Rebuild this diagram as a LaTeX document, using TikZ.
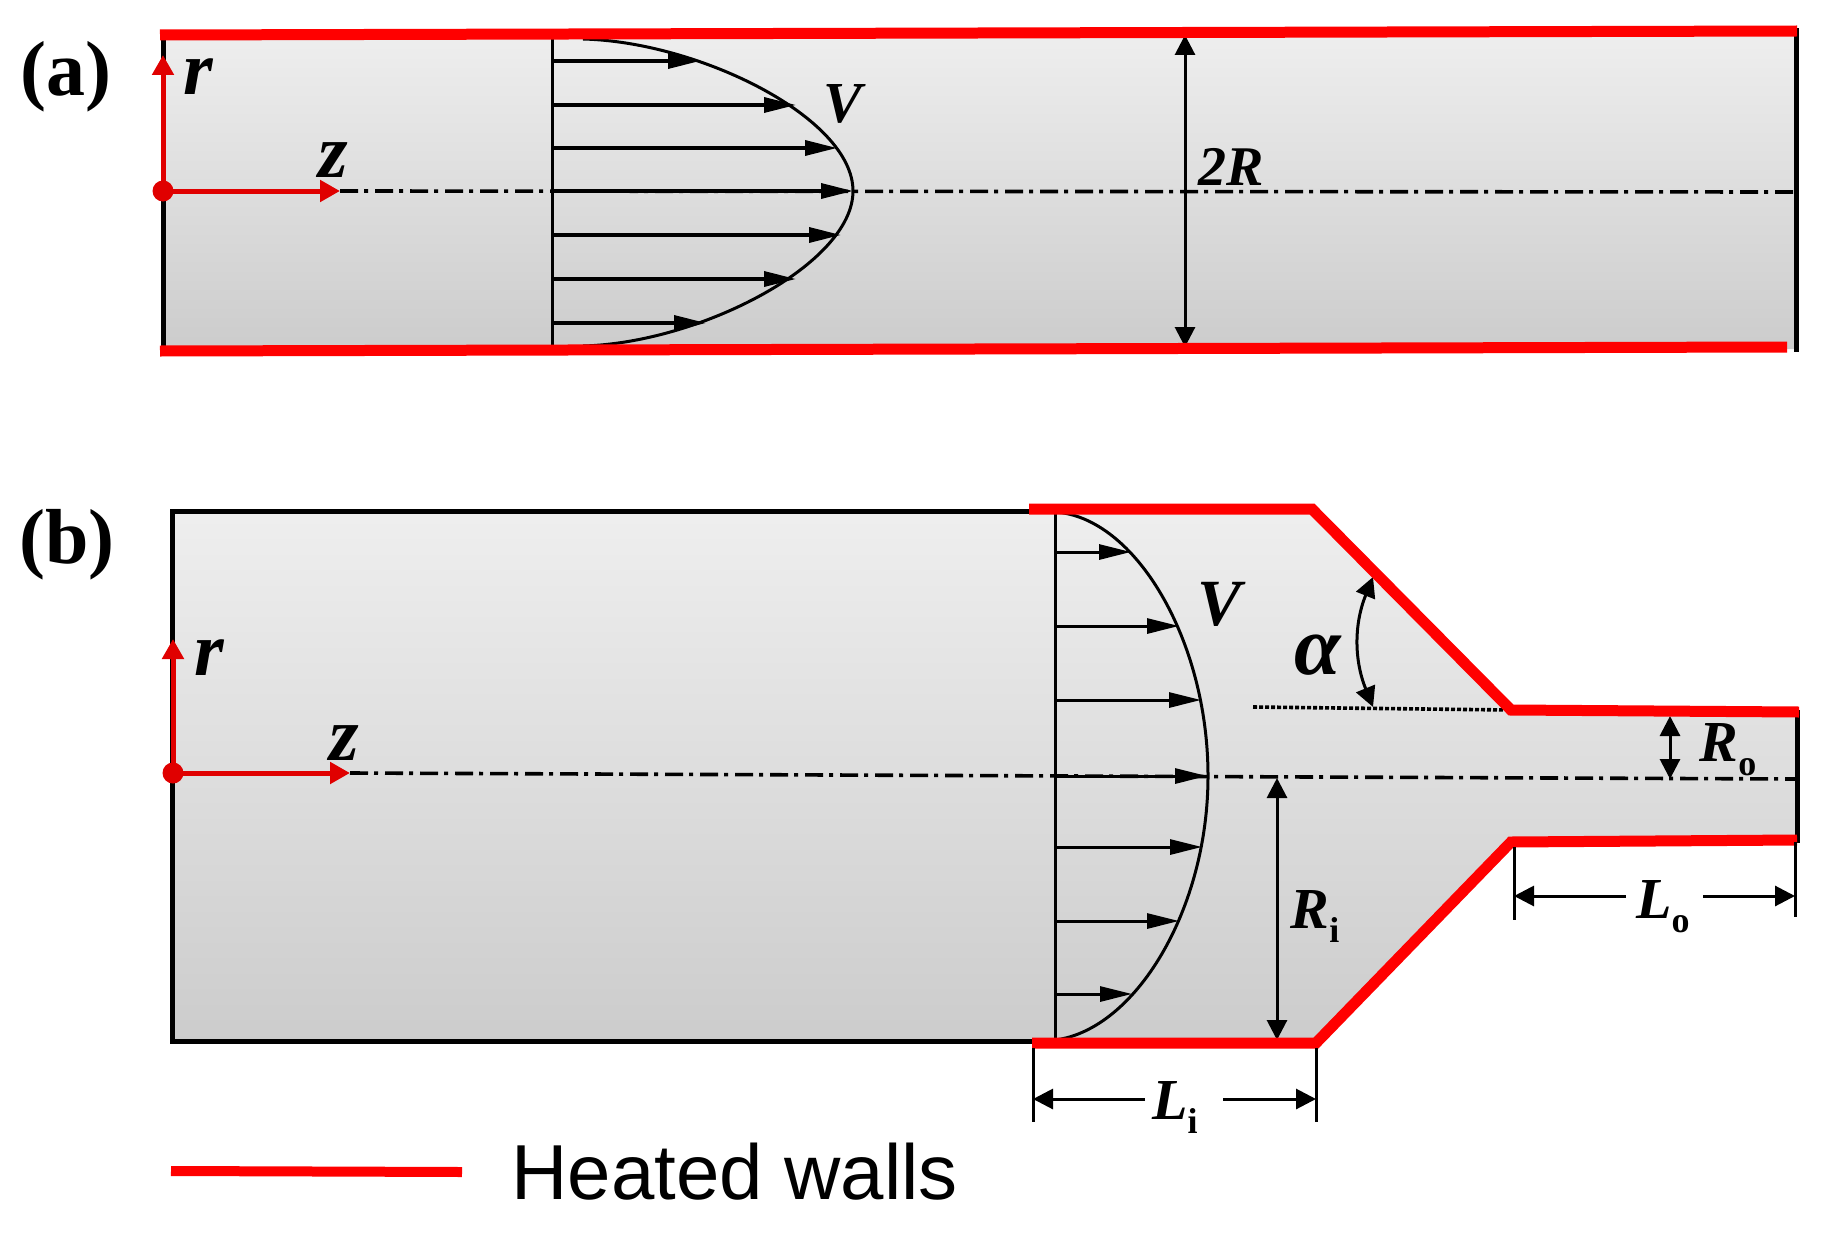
\documentclass[tikz,border=0pt]{standalone}
\usepackage{fontspec}
\setmainfont{Liberation Serif}
\newfontfamily\legendfont{Liberation Sans}
\usetikzlibrary{arrows.meta}
\newcommand{\sublab}[2]{\textbf{\textit{#1}}\raisebox{-7pt}{\fontsize{18}{18}\selectfont\textbf{#2}}}

\begin{document}
\begin{tikzpicture}[
    x=0.5pt, y=-0.5pt,
    lab/.style={inner sep=0pt, font=\fontsize{#1}{#1}\selectfont\bfseries\itshape},
    panel/.style={inner sep=0pt, font=\fontsize{39}{39}\selectfont\bfseries},
    body/.style={top color=black!6.5, bottom color=black!20},
    wall/.style={line width=2.5pt, black, line cap=rect},
    heated/.style={line width=5.5pt, red, line join=miter},
    axis/.style={line width=2.5pt, red!88!black, -{Triangle[length=10pt,width=10.5pt]}},
    axisdot/.style={circle, fill=red!88!black, minimum size=10.5pt, inner sep=0pt},
    center/.style={line width=1.8pt, dash pattern=on 9pt off 3pt on 2pt off 3.5pt},
    station/.style={line width=1.5pt},
    flow/.style={line width=1.7pt, -{Triangle[length=16pt,width=7.5pt]}},
    profile/.style={line width=1.5pt},
    dimline/.style={line width=1.5pt, {Triangle[length=10pt,width=10pt]}-{Triangle[length=10pt,width=10pt]}},
    dimone/.style={line width=1.5pt, -{Triangle[length=10pt,width=10pt]}},
    tick/.style={line width=1.5pt}
]
    \useasboundingbox (0,0) rectangle (1830,1236);

    % (a) straight pipe
    \coordinate (atl) at (163,33);
    \coordinate (abl) at (163,350);
    \coordinate (atr) at (1796,31);
    \coordinate (abr) at (1796,349);
    \shade[body] (atl) -- (atr) -- (abr) -- (abl) -- cycle;
    \draw[wall] (atl) -- (abl);
    \draw[wall] (atr) -- (abr);

    \coordinate (amid) at (163,191);
    \coordinate (aztip) at (340,191);
    \coordinate (artip) at (163,55);
    \coordinate (aend) at (1794,192);
    \draw[center] (aztip) -- (aend);
    \draw[axis] (amid) -- (aztip);
    \draw[axis] (amid) -- (artip);
    \node[axisdot] (aorigin) at (amid) {};

    \coordinate (asttop) at (552,37);
    \coordinate (astbot) at (552,347);
    \draw[station] (asttop) -- (astbot);
    \foreach \i/\yy/\xx in {1/61/700, 2/105/796, 3/148/837, 4/191/853, 5/235/841, 6/279/796, 7/323/706} {
        \coordinate (as\i) at (552,\yy);
        \coordinate (ae\i) at (\xx,\yy);
        \draw[flow] (as\i) -- (ae\i);
    }
    \coordinate (aptop) at (583,39);
    \coordinate (apbot) at (583,346);
    \draw[profile] (aptop) .. controls (700,42) and (853,118) .. (ae4)
        .. controls (853,264) and (700,343) .. (apbot);

    \coordinate (adtop) at (1185,35);
    \coordinate (adbot) at (1185,347);
    \draw[dimline] (adtop) -- (adbot);

    \draw[heated] (160,35) -- (1797,31);
    \draw[heated] (160,351) -- (1787,347);

    \node[panel] (alabel) at (66,77) {(a)};
    \node[lab=38] (arlabel) at (198,77) {r};
    \node[lab=38] (azlabel) at (333,160) {z};
    \node[lab=29] (avlabel) at (843,104) {V};
    \node[lab=28] (a2rlabel) at (1231,167) {2R};

    % (b) contraction
    \coordinate (btl) at (172,511);
    \coordinate (bbl) at (172,1041);
    \coordinate (bti) at (1312,509);
    \coordinate (bto) at (1511,710);
    \coordinate (btr) at (1797,712);
    \coordinate (bbr) at (1797,840);
    \coordinate (bbo) at (1511,842);
    \coordinate (bbi) at (1316,1043);
    \shade[body] (btl) -- (bti) -- (bto) -- (btr) -- (bbr) -- (bbo) -- (bbi) -- (bbl) -- cycle;
    \draw[wall] (1029,511) -- (btl) -- (bbl) -- (1032,1041);
    \draw[wall] (btr) -- (bbr);

    \coordinate (bmid) at (173,773);
    \coordinate (bztip) at (350,773);
    \coordinate (brtip) at (173,639);
    \coordinate (bend) at (1796,779);
    \draw[center] (bztip) -- (bend);
    \draw[axis] (bmid) -- (bztip);
    \draw[axis] (bmid) -- (brtip);
    \node[axisdot] (borigin) at (bmid) {};

    \coordinate (bsttop) at (1055,512);
    \coordinate (bstbot) at (1055,1040);
    \draw[station] (bsttop) -- (bstbot);
    \foreach \i/\yy/\xx in {1/552/1131, 2/626/1179, 3/700/1201, 4/776/1207, 5/847/1202, 6/921/1179, 7/994/1132} {
        \coordinate (bs\i) at (1055,\yy);
        \coordinate (be\i) at (\xx,\yy);
        \draw[flow, line width=1.5pt] (bs\i) -- (be\i);
    }
    \coordinate (bptip) at (1208,776);
    \draw[profile] (bsttop) .. controls (1135,517) and (1208,640) .. (bptip)
        .. controls (1208,910) and (1135,1030) .. (bstbot);

    \coordinate (bdots) at (1253,707);
    \coordinate (bdote) at (1510,710);
    \draw[line width=1.8pt, dash pattern=on 2pt off 1pt] (bdots) -- (bdote);
    \coordinate (alphatop) at (1373,577);
    \coordinate (alphabot) at (1373,707);
    \draw[dimline] (alphatop) to[bend right=22] (alphabot);

    \coordinate (rotop) at (1670,716);
    \coordinate (robot) at (1670,779);
    \draw[dimline] (rotop) -- (robot);
    \coordinate (ritop) at (1277,778);
    \coordinate (ribot) at (1277,1040);
    \draw[dimline] (ritop) -- (ribot);

    \draw[heated] (1029,509) -- (bti) -- (bto) -- (1799,712);
    \draw[heated] (1032,1043) -- (bbi) -- (bbo) -- (1797,840);

    \draw[tick] (1514,847) -- (1514,920);
    \draw[tick] (1795,842) -- (1795,917);
    \coordinate (loleft) at (1514,896);
    \coordinate (loright) at (1795,896);
    \coordinate (logapl) at (1626,896);
    \coordinate (logapr) at (1703,896);
    \draw[dimone] (logapl) -- (loleft);
    \draw[dimone] (logapr) -- (loright);

    \draw[tick] (1033,1048) -- (1033,1122);
    \draw[tick] (1316,1048) -- (1316,1122);
    \coordinate (lileft) at (1033,1099);
    \coordinate (liright) at (1316,1099);
    \coordinate (ligapl) at (1145,1099);
    \coordinate (ligapr) at (1223,1099);
    \draw[dimone] (ligapl) -- (lileft);
    \draw[dimone] (ligapr) -- (liright);

    \node[panel] (blabel) at (67,545) {(b)};
    \node[lab=38] (brlabel) at (209,658) {r};
    \node[lab=38] (bzlabel) at (344,743) {z};
    \node[lab=33] (bvlabel) at (1219,604) {V};
    \node[lab=42] (balpha) at (1318,655) {α};
    \node[inner sep=0pt, font=\fontsize{29}{29}\selectfont] (rolabel) at (1728,750) {\sublab{R}{o}};
    \node[inner sep=0pt, font=\fontsize{29}{29}\selectfont] (rilabel) at (1315,916) {\sublab{R}{i}};
    \node[inner sep=0pt, font=\fontsize{29}{29}\selectfont] (lolabel) at (1663,907) {\sublab{L}{o}};
    \node[inner sep=0pt, font=\fontsize{29}{29}\selectfont] (lilabel) at (1175,1107) {\sublab{L}{i}};

    % legend
    \coordinate (legl) at (171,1171);
    \coordinate (legr) at (462,1172);
    \draw[heated, line width=5pt] (legl) -- (legr);
    \node[anchor=west, inner sep=0pt, font=\fontsize{39}{39}\selectfont\legendfont] (legtext) at (511,1172) {Heated walls};
\end{tikzpicture}
\end{document}
